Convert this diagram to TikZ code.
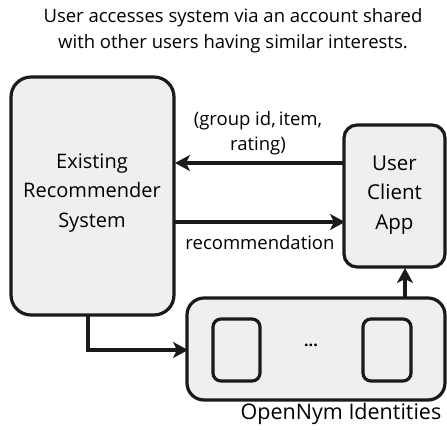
\documentclass[tikz,border=0pt]{standalone}
\usepackage{fontspec}
\setmainfont{Open Sans}
\usetikzlibrary{arrows.meta}
\definecolor{boxfill}{HTML}{EFEFEF}
\definecolor{ink}{HTML}{1A1A1A}
\tikzset{
  box/.style={draw=ink, line width=3.2pt, fill=boxfill, rounded corners=#1},
  box/.default=16pt,
  conn/.style={draw=ink, line width=3.2pt, -{Stealth[length=15pt,width=16pt,inset=4pt]}},
  lbl/.style={font=\fontsize{18.5}{25}\selectfont, align=center, inner sep=0pt},
  boxlbl/.style={font=\fontsize{20}{29.5}\selectfont, align=center, inner sep=0pt}
}
\begin{document}
\begin{tikzpicture}[x=1pt,y=-1pt]
\useasboundingbox (0,0) rectangle (447,429);
\node[lbl, font=\fontsize{18.5}{26}\selectfont] (title) at (233,31) {User accesses system via an account shared\\with other users having similar interests.};
% Existing recommender
\draw[box=20pt] (11,77) rectangle (174,315);
\node[boxlbl] (ers) at (92,193) {Existing\\Recommender\\System};
% User client app
\draw[box=13pt] (344,125) rectangle (445,267);
\node[boxlbl, font=\fontsize{20.5}{29.5}\selectfont] (uca) at (394.5,195) {User\\Client\\App};
% OpenNym
\draw[box=17pt] (187,298) rectangle (445,400);
\draw[box=8pt] (213,319) rectangle (260,381);
\draw[box=8pt] (363,319) rectangle (411,381);
\node[font=\fontsize{16}{18}\selectfont\bfseries, inner sep=0pt] (dots) at (311,345) {...};
\node[lbl, font=\fontsize{21.5}{24}\selectfont] (onl) at (341,414) {OpenNym Identities};
% named anchors
\coordinate (ucaT) at (344,163);
\coordinate (ersT) at (175,163);
\coordinate (ersB) at (175,222);
\coordinate (ucaB) at (345,222);
\coordinate (onTop) at (405,298);
\coordinate (ucaBot) at (405,268);
\coordinate (ersBot) at (88,315);
\coordinate (onLeft) at (188,350);
% arrows
\draw[conn] (ucaT) -- (ersT);
\draw[conn] (ersB) -- (ucaB);
\draw[conn] (onTop) -- (ucaBot);
\draw[conn] (ersBot) |- (onLeft);
% labels
\node[lbl] (l1) at (258,133) {(group id,\,item,\\rating)};
\node[lbl] (l2) at (260,243) {recommendation};
\end{tikzpicture}
\end{document}
